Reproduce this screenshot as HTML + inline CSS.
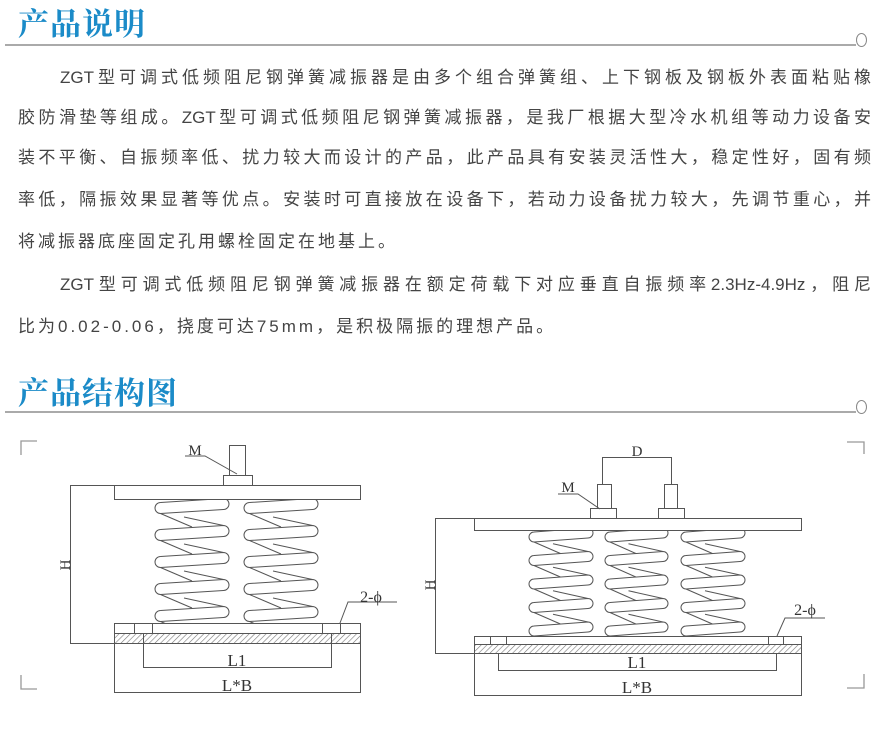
<!DOCTYPE html>
<html><head><meta charset="utf-8"><style>
html,body{margin:0;padding:0;background:#fff;}
body{width:889px;height:734px;position:relative;overflow:hidden;font-family:"Liberation Sans","Noto Sans CJK SC",sans-serif;}
.title{position:absolute;left:18px;font-family:"Liberation Serif","Noto Serif CJK SC",serif;font-weight:bold;font-size:31px;color:#1b8bc8;letter-spacing:1px;line-height:36px;}
.rule{position:absolute;left:5px;width:851px;height:2px;background:#aaa;}
.circ{position:absolute;width:9px;height:12px;border:1.3px solid #888;border-radius:50%;background:#fff;}
.ln{position:absolute;left:18px;width:853px;font-size:17px;color:#444;line-height:24px;text-align:justify;text-align-last:justify;white-space:nowrap;}
.ln.ind{left:60px;width:811px;}
.ln.nj{text-align-last:left;letter-spacing:3px;}
</style></head><body>
<div class="title" style="top:7px">产品说明</div>
<div class="rule" style="top:44px"></div>
<div class="circ" style="left:856px;top:33px"></div>

<div class="ln ind" style="top:66px">ZGT型可调式低频阻尼钢弹簧减振器是由多个组合弹簧组、上下钢板及钢板外表面粘贴橡</div>
<div class="ln" style="top:106px">胶防滑垫等组成。ZGT型可调式低频阻尼钢弹簧减振器，是我厂根据大型冷水机组等动力设备安</div>
<div class="ln" style="top:146px">装不平衡、自振频率低、扰力较大而设计的产品，此产品具有安装灵活性大，稳定性好，固有频</div>
<div class="ln" style="top:188px">率低，隔振效果显著等优点。安装时可直接放在设备下，若动力设备扰力较大，先调节重心，并</div>
<div class="ln nj" style="top:230px">将减振器底座固定孔用螺栓固定在地基上。</div>
<div class="ln ind" style="top:273px">ZGT型可调式低频阻尼钢弹簧减振器在额定荷载下对应垂直自振频率2.3Hz-4.9Hz，阻尼</div>
<div class="ln nj" style="top:315px">比为0.02-0.06，挠度可达75mm，是积极隔振的理想产品。</div>

<div class="title" style="top:376px">产品结构图</div>
<div class="rule" style="top:411px"></div>
<div class="circ" style="left:856px;top:400px"></div>

<svg id="d" width="889" height="734" style="position:absolute;left:0;top:0" xmlns="http://www.w3.org/2000/svg">
<defs>
<pattern id="h" width="4" height="4" patternUnits="userSpaceOnUse" patternTransform="rotate(45)">
<line x1="0" y1="0" x2="0" y2="4" stroke="#777" stroke-width="1.2"/></pattern>
<clipPath id="c1"><rect x="100" y="499" width="280" height="124"/></clipPath>
<clipPath id="c2"><rect x="480" y="530" width="300" height="106"/></clipPath>
</defs>
<g fill="none" stroke="#999" stroke-width="1.3">
<path d="M37 441H21V455M21 675V689H37M847 442H864V454M864 674V688H847"/>
</g>
<g id="s1" clip-path="url(#c1)" fill="#fff" stroke="#555" stroke-width="1"></g>
<g id="s2" clip-path="url(#c2)" fill="#fff" stroke="#555" stroke-width="1"></g>
<g id="g" fill="none" stroke="#555" stroke-width="1">
<rect x="114.5" y="485.5" width="246" height="14" fill="#fff"/>
<rect x="223.5" y="475.5" width="29" height="10"/>
<rect x="229.5" y="445.5" width="16" height="30"/>
<path d="M185 456H205L237 474"/>
<path d="M114 485.5H70.5V643.5H114"/>
<rect x="114.5" y="623.5" width="246" height="10"/>
<path d="M134.5 623.5V633.5M152.5 623.5V633.5M322.5 623.5V633.5M340.5 623.5V633.5"/>
<rect x="114.5" y="633.5" width="246" height="10" fill="url(#h)"/>
<path d="M143.5 633.5V667.5H331.5V633.5"/>
<path d="M114.5 643.5V692.5H360.5V643.5"/>
<path d="M397 602H348L340 623"/>
<rect x="474.5" y="518.5" width="327" height="12" fill="#fff"/>
<rect x="590.5" y="508.5" width="26" height="10"/>
<rect x="597.5" y="484.5" width="14" height="24"/>
<rect x="658.5" y="508.5" width="26" height="10"/>
<rect x="664.5" y="484.5" width="13" height="24"/>
<path d="M602.5 484V457.5H671.5V484"/>
<path d="M558 494H578L600 509"/>
<path d="M474 518.5H435.5V653.5H474"/>
<rect x="474.5" y="636.5" width="327" height="8"/>
<path d="M490.5 636.5V644.5M506.5 636.5V644.5M768.5 636.5V644.5M783.5 636.5V644.5"/>
<rect x="474.5" y="644.5" width="327" height="9" fill="url(#h)"/>
<path d="M498.5 653.5V670.5H776.5V653.5"/>
<path d="M474.5 653.5V695.5H801.5V653.5"/>
<path d="M825 618H785L777 636"/>
</g>
<g font-family="Liberation Serif,serif" font-size="15" fill="#333" text-anchor="middle">
<text x="195" y="455">M</text>
<text x="237" y="666" font-size="17">L1</text>
<text x="237" y="691" font-size="17">L*B</text>
<text x="371" y="602" font-size="16">2-ϕ</text>
<text transform="translate(70,565) rotate(-90)">H</text>
<text x="637" y="456">D</text>
<text x="568" y="492">M</text>
<text x="637" y="668" font-size="17">L1</text>
<text x="637" y="693" font-size="17">L*B</text>
<text x="805" y="615" font-size="16">2-ϕ</text>
<text transform="translate(435,585) rotate(-90)">H</text>
</g>
</svg>
<script>
function spring(g,x0,x1,yStart,p,t,n){
  var s='',r=t/2,m=(x0+x1)/2;
  for(var i=-1;i<n;i++){
    var yR=yStart+i*p, yL=yR+4;
    s+='<path fill="none" d="M'+(x0+r)+' '+(yL+r)+'L'+m+' '+(yL+r+p*0.5)+'"/>';
    s+='<path fill="none" d="M'+(m-8)+' '+(yL+r+p*0.5-10)+'L'+(x1-r)+' '+(yR+p-r)+'"/>';
    s+='<path d="M'+(x1-r)+' '+(yR-r)+'L'+(x0+r)+' '+(yL-r)+'A'+r+' '+r+' 0 0 0 '+(x0+r)+' '+(yL+r)+'L'+(x1-r)+' '+(yR+r)+'A'+r+' '+r+' 0 0 0 '+(x1-r)+' '+(yR-r)+'Z"/>';
  }
  document.getElementById(g).innerHTML+=s;
}
spring('s1',155,229,504,27,11,5);
spring('s1',244,318,504,27,11,5);
spring('s2',529,593,533,23.5,10,5);
spring('s2',605,668,533,23.5,10,5);
spring('s2',681,745,533,23.5,10,5);
</script>
</body></html>
